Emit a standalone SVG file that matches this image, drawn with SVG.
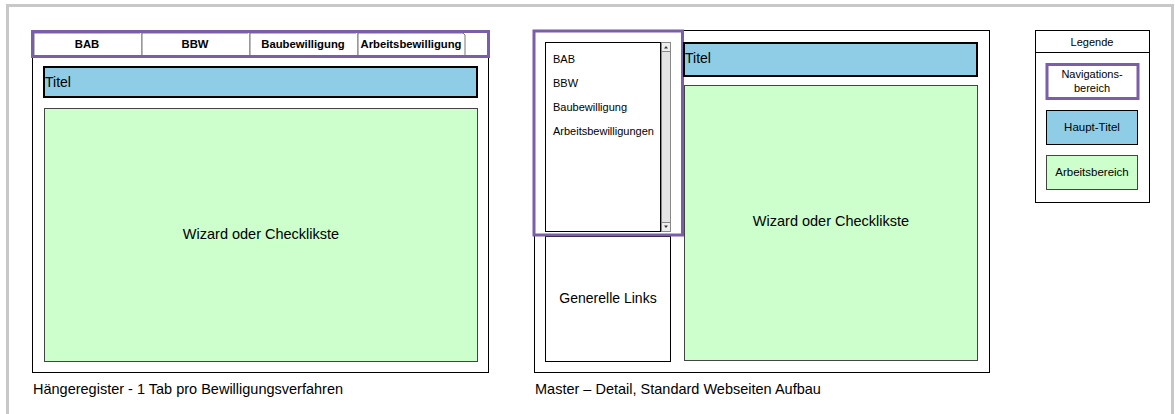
<svg xmlns="http://www.w3.org/2000/svg" width="1175" height="414" viewBox="0 0 1175 414">
<style>
text{font-family:"Liberation Sans",Arial,sans-serif;fill:#000}
.panel{fill:#fff;stroke:#000;stroke-width:1}
.nav{fill:none;stroke:#7a5ea8;stroke-width:3}
.title{fill:#8ecde5;stroke:#000;stroke-width:2}
.work{fill:#ccffcc;stroke:#444;stroke-width:1}
.tab{fill:#fff;stroke:#777;stroke-width:1}
.tabt{font-size:11.3px;font-weight:bold;text-anchor:middle}
.item{font-size:11px}
</style>
<rect x="0" y="0" width="1175" height="414" fill="#fff"/>
<path d="M7.5,420 V5.5 H1172.5 V420" fill="none" stroke="#c8c8c8" stroke-width="3"/>

<g id="left-panel">
<rect class="panel" x="32.5" y="30.5" width="456" height="342"/>
<g id="tabs">
<path class="tab" d="M34,56 V33 H140 L141,31 L142,33 V56"/>
<path class="tab" d="M142,56 V33 H248 L249,31 L250,33 V56"/>
<path class="tab" d="M250,56 V33 H356 L357,31 L358,33 V56"/>
<path class="tab" d="M358,56 V33 H463 L465,35 V56"/>
<text class="tabt" x="87" y="48">BAB</text>
<text class="tabt" x="195" y="48">BBW</text>
<text class="tabt" x="303" y="48">Baubewilligung</text>
<text class="tabt" x="411" y="48">Arbeitsbewilligung</text>
</g>
<rect class="nav" x="32.5" y="31.5" width="456" height="25"/>
<rect class="title" x="44" y="67" width="433" height="30"/>
<text x="45" y="87" font-size="14">Titel</text>
<rect class="work" x="44.5" y="108.5" width="433" height="253"/>
<text x="261" y="239" font-size="14.5" text-anchor="middle">Wizard oder Checklikste</text>
<text x="33" y="394" font-size="14.5">Hängeregister - 1 Tab pro Bewilligungsverfahren</text>
</g>

<g id="right-panel">
<rect class="panel" x="534.5" y="30.5" width="455" height="342"/>
<rect class="panel" x="545.5" y="236.5" width="125" height="125"/>
<text x="608" y="303" font-size="14" text-anchor="middle">Generelle Links</text>
<rect class="panel" x="545.5" y="42.5" width="115" height="189"/>
<rect x="661.5" y="42.5" width="9" height="189" fill="#e4e4e4" stroke="#888"/>
<rect x="661.5" y="42.5" width="9" height="9" fill="#eee" stroke="#888"/>
<rect x="661.5" y="222.5" width="9" height="9" fill="#eee" stroke="#888"/>
<path d="M664,48.5 L666,46 L668,48.5 Z M664,225.5 L668,225.5 L666,228 Z" fill="#333"/>
<text class="item" x="553" y="63">BAB</text>
<text class="item" x="553" y="87">BBW</text>
<text class="item" x="553" y="111">Baubewilligung</text>
<text class="item" x="553" y="135">Arbeitsbewilligungen</text>
<rect class="nav" x="534" y="31" width="148.5" height="204"/>
<rect class="title" x="684" y="43" width="293" height="33"/>
<text x="685" y="63" font-size="14">Titel</text>
<rect class="work" x="684.5" y="85.5" width="293" height="275"/>
<text x="831" y="226" font-size="14.5" text-anchor="middle">Wizard oder Checklikste</text>
<text x="535" y="394" font-size="14.5">Master – Detail, Standard Webseiten Aufbau</text>
</g>

<g id="legend">
<rect class="panel" x="1035.5" y="30.5" width="114" height="172"/>
<line x1="1035.5" y1="52.5" x2="1149.5" y2="52.5" stroke="#000"/>
<text x="1092" y="46" font-size="11" text-anchor="middle">Legende</text>
<rect x="1047" y="64.5" width="91" height="34" fill="#fff" stroke="#7a5ea8" stroke-width="3"/>
<text x="1092" y="78" font-size="11" text-anchor="middle">Navigations-</text>
<text x="1092" y="92" font-size="11" text-anchor="middle">bereich</text>
<rect x="1046.5" y="110.5" width="91" height="34" fill="#8ecde5" stroke="#000"/>
<text x="1092" y="131" font-size="11.5" text-anchor="middle">Haupt-Titel</text>
<rect x="1046.5" y="155.5" width="91" height="34" fill="#ccffcc" stroke="#444"/>
<text x="1092" y="176" font-size="11.5" text-anchor="middle">Arbeitsbereich</text>
</g>
</svg>
